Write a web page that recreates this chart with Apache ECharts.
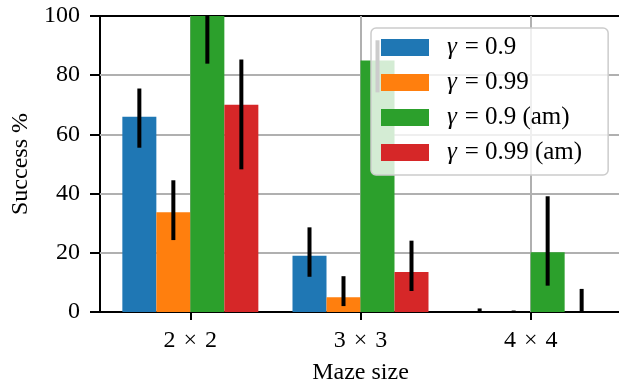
<!DOCTYPE html>
<html>
<head>
<meta charset="utf-8">
<script src="https://cdn.jsdelivr.net/npm/echarts@6/dist/echarts.min.js"></script>
<style>
  html, body { margin: 0; padding: 0; background: #fff; }
  #chart { width: 619px; height: 381px; }
</style>
</head>
<body>
<div id="chart"></div>
<script>
// categories and series
const categories = ['2 × 2', '3 × 3', '4 × 4']
const seriesNames = ['γ = 0.9', 'γ = 0.99', 'γ = 0.9 (am)', 'γ = 0.99 (am)']
const colors = ['#1f77b4', '#ff7f0e', '#2ca02c', '#d62728']

const gamma09 = [66, 19, 0]
const gamma099 = [33.7, 5, 0]
const gamma09am = [100, 85, 20.2]
const gamma099am = [70, 13.5, 0]

// error bars as [low, high]
const gamma09Err = [[55.5, 75.5], [11.9, 28.6], [0, 1.2]]
const gamma099Err = [[24.3, 44.5], [2, 12.1], [0, 0.5]]
const gamma09amErr = [[83.9, 100], [74.2, 91.8], [8.9, 39.1]]
const gamma099amErr = [[48.2, 85.3], [7.1, 24.1], [0, 7.8]]

const yTicks = [0, 20, 40, 60, 80, 100]

const values = [gamma09, gamma099, gamma09am, gamma099am]
const errors = [gamma09Err, gamma099Err, gamma09amErr, gamma099amErr]

const barWidth = 34
const font = 'Liberation Serif'

const chart = echarts.init(document.getElementById('chart'))

const barSeries = values.map((vals, k) => ({
  name: seriesNames[k],
  type: 'bar',
  barWidth: barWidth,
  barGap: '0%',
  z: 2,
  itemStyle: { color: colors[k] },
  data: vals.map((v, i) => [i, v])
}))

const errSeries = errors.map((errs, k) => ({
  name: 'err' + k,
  type: 'custom',
  z: 3,
  clip: true,
  data: errs.map((e, i) => [i, e[0], e[1]]),
  renderItem (params, api) {
    const lo = api.coord([api.value(0), api.value(1)])
    const hi = api.coord([api.value(0), api.value(2)])
    const dx = (k - 1.5) * barWidth
    return {
      type: 'line',
      shape: { x1: lo[0] + dx, y1: lo[1], x2: hi[0] + dx, y2: hi[1] },
      style: { stroke: '#000', lineWidth: 4 }
    }
  }
}))

const option = {
  animation: false,
  textStyle: { fontFamily: font },
  grid: {
    left: 100,
    top: 16,
    right: -2,
    bottom: 69,
    outerBoundsMode: 'none',
    containLabel: false,
    show: true,
    borderColor: '#000',
    borderWidth: 2,
    backgroundColor: 'transparent'
  },
  legend: {
    orient: 'vertical',
    left: 371,
    top: 28,
    z: 10,
    data: seriesNames,
    icon: 'rect',
    itemWidth: 48,
    itemHeight: 17,
    itemGap: 10,
    padding: [7, 26, 10, 10],
    backgroundColor: 'rgba(255,255,255,0.8)',
    borderColor: '#cccccc',
    borderWidth: 1.5,
    borderRadius: 5,
    selectedMode: false,
    formatter: name => name.replace('γ = ', '{g|γ}{e|=}'),
    textStyle: {
      fontFamily: font,
      fontSize: 25,
      color: '#000',
      lineHeight: 24,
      padding: [0, 0, 0, 13],
      rich: {
        g: { fontFamily: font, fontSize: 25, fontStyle: 'italic', color: '#000', padding: [0, 2, 0, 0] },
        e: { fontFamily: font, fontSize: 25, color: '#000', padding: [0, 6, 0, 6] }
      }
    }
  },
  xAxis: {
    type: 'value',
    min: -0.531,
    max: 2.531,
    name: 'Maze size',
    nameLocation: 'middle',
    nameGap: 49,
    nameTextStyle: { fontFamily: font, fontSize: 24, color: '#000' },
    axisLine: { show: false, onZero: false },
    axisTick: { show: true, customValues: [0, 1, 2], length: 8, lineStyle: { color: '#000', width: 2 } },
    axisLabel: {
      customValues: [0, 1, 2],
      margin: 17,
      fontFamily: font,
      fontSize: 24,
      color: '#000',
      formatter: v => categories[Math.round(v)].replace(' × ', '{x|×}'),
      rich: {
        x: { fontFamily: font, fontSize: 24, color: '#000', padding: [0, 8, 0, 8] }
      }
    },
    splitLine: { show: true, lineStyle: { color: '#b0b0b0', width: 2 } }
  },
  yAxis: {
    type: 'value',
    min: yTicks[0],
    max: yTicks[yTicks.length - 1],
    interval: 20,
    name: 'Success %',
    nameLocation: 'middle',
    nameGap: 66,
    nameTextStyle: { fontFamily: font, fontSize: 24, color: '#000' },
    axisLine: { show: false, onZero: false },
    axisTick: { show: true, length: 10, lineStyle: { color: '#000', width: 2 } },
    axisLabel: { margin: 20, fontFamily: font, fontSize: 24, color: '#000' },
    splitLine: { show: true, showMinLine: false, showMaxLine: false, lineStyle: { color: '#b0b0b0', width: 2 } }
  },
  series: barSeries.concat(errSeries)
}

chart.setOption(option)
</script>
</body>
</html>
